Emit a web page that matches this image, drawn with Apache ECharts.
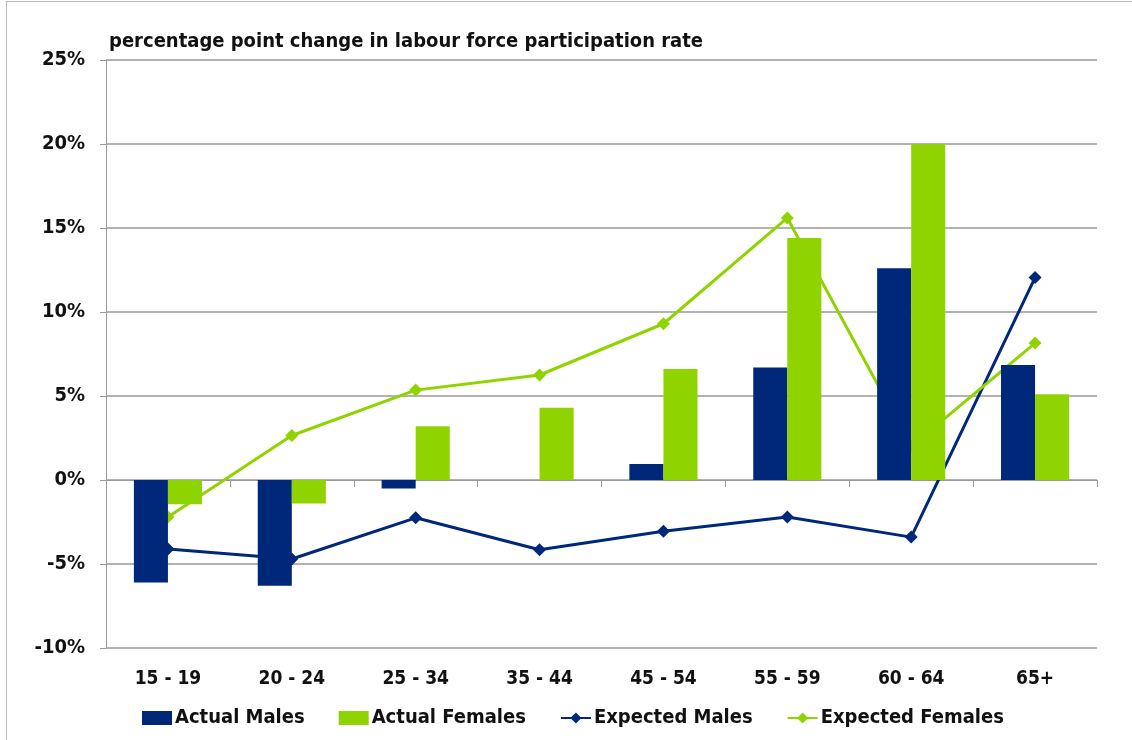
<!DOCTYPE html>
<html>
<head>
    <meta charset="utf-8">
    <title>labour force participation</title>
    <script src="https://cdn.jsdelivr.net/npm/echarts@6/dist/echarts.min.js"></script>
    <style>
        body { margin: 0; position: relative; }
        #mychat { width: 1132px; height: 740px; }
        #frame { position: absolute; left: 6px; top: 1px; width: 1140px; height: 760px; border-top: 1px solid #bbb; border-left: 1px solid #bbb; pointer-events: none; }
    </style>
</head>
<body>
<div id="mychat"></div>
<div id="frame"></div>
<script>
    var categories = ['15 - 19', '20 - 24', '25 - 34', '35 - 44', '45 - 54', '55 - 59', '60 - 64', '65+'];
    var actualMales = [-6.1, -6.3, -0.5, 0, 0.95, 6.7, 12.6, 6.85];
    var actualFemales = [-1.45, -1.4, 3.2, 4.3, 6.6, 14.4, 20.0, 5.1];
    var expectedMales = [-4.1, -4.7, -2.25, -4.15, -3.05, -2.2, -3.4, 12.05];
    var expectedFemales = [-2.2, 2.65, 5.35, 6.25, 9.3, 15.6, 2.0, 8.15];

    var navy = '#00287A';
    var green = '#8FD400';
    var font = "'Liberation Sans Narrow', 'DejaVu Sans Condensed', 'Liberation Sans', sans-serif";

    var myChart = echarts.init(document.getElementById('mychat'));
    var option = {
        animation: false,
        textStyle: { fontFamily: font },
        title: {
            text: 'percentage point change in labour force participation rate',
            left: 104,
            top: 27,
            textStyle: { fontSize: 20, fontWeight: 'bold', color: '#111', fontFamily: font }
        },
        legend: {
            top: 703,
            left: 137,
            itemGap: 34,
            itemWidth: 30,
            itemHeight: 14,
            textStyle: { fontSize: 20, fontWeight: 'bold', color: '#111', fontFamily: font, padding: [0, 0, 0, -2] },
            data: [
                { name: 'Actual Males', icon: 'rect' },
                { name: 'Actual Females', icon: 'rect' },
                { name: 'Expected Males' },
                { name: 'Expected Females' }
            ]
        },
        grid: { left: 106, right: 35, top: 60, bottom: 92 },
        xAxis: [
            {
                type: 'category',
                data: categories,
                axisLine: { onZero: true, lineStyle: { color: '#999', width: 1 } },
                axisTick: { show: true, length: 7, lineStyle: { color: '#999' } },
                axisLabel: { show: false },
                splitLine: { show: false }
            },
            {
                type: 'category',
                data: categories,
                position: 'bottom',
                axisLine: { show: false },
                axisTick: { show: false },
                axisLabel: { fontSize: 19, fontWeight: 'bold', color: '#111', margin: 22, fontFamily: font }
            }
        ],
        yAxis: {
            type: 'value',
            min: -10,
            max: 25,
            interval: 5,
            axisLine: { show: true, lineStyle: { color: '#999' } },
            axisTick: { show: true, length: 6, lineStyle: { color: '#999' } },
            axisLabel: { formatter: '{value}%', fontSize: 20, fontWeight: 'bold', color: '#111', margin: 21, fontFamily: font },
            splitLine: { lineStyle: { color: '#999', width: 1.5 } }
        },
        series: [
            {
                name: 'Actual Males',
                type: 'bar',
                z: 5,
                barGap: '0%',
                barCategoryGap: '45%',
                itemStyle: { color: navy },
                data: actualMales
            },
            {
                name: 'Actual Females',
                type: 'bar',
                z: 5,
                itemStyle: { color: green },
                data: actualFemales
            },
            {
                name: 'Expected Males',
                type: 'line',
                z: 2,
                symbol: 'diamond',
                symbolSize: 13,
                lineStyle: { color: navy, width: 3 },
                itemStyle: { color: navy },
                data: expectedMales
            },
            {
                name: 'Expected Females',
                type: 'line',
                z: 2,
                symbol: 'diamond',
                symbolSize: 13,
                lineStyle: { color: green, width: 3 },
                itemStyle: { color: green },
                data: expectedFemales
            }
        ]
    };
    myChart.setOption(option);
</script>
</body>
</html>
